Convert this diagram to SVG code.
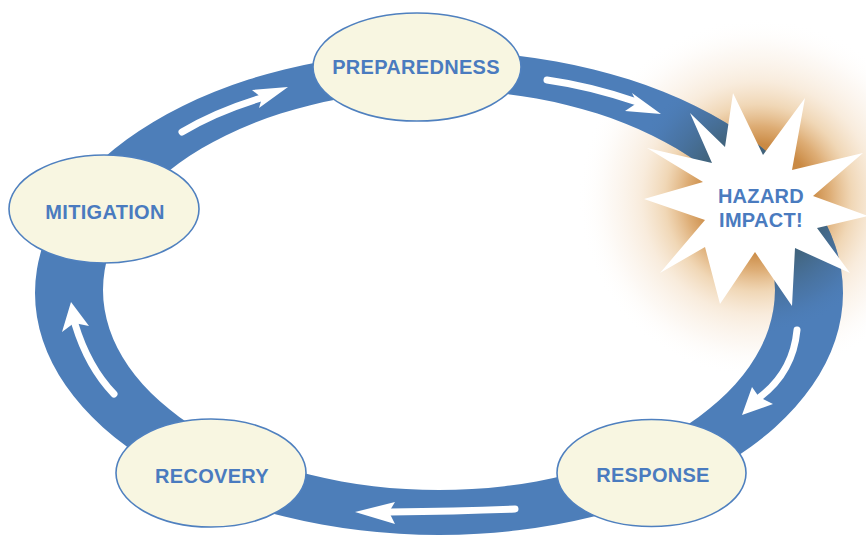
<svg xmlns="http://www.w3.org/2000/svg" width="866" height="539" viewBox="0 0 866 539">
<defs>
<style>
.node ellipse{fill:#f8f6e1;stroke:#4f80bf;stroke-width:1.6}
.lbl{font-family:"Liberation Sans",Arial,sans-serif;font-weight:bold;font-size:20px;fill:#4a7bbf;text-anchor:middle;letter-spacing:0.3px}
.shaft{fill:none;stroke:#ffffff;stroke-width:7;stroke-linecap:round}
.head{fill:#ffffff}
</style>
<radialGradient id="glow" gradientUnits="userSpaceOnUse" cx="758" cy="198" r="180">
<stop offset="0" stop-color="#c47f35" stop-opacity="1"/>
<stop offset="0.3" stop-color="#ca8a44" stop-opacity="1"/>
<stop offset="0.4" stop-color="#daa466" stop-opacity="0.9"/>
<stop offset="0.52" stop-color="#eac697" stop-opacity="0.7"/>
<stop offset="0.65" stop-color="#f3dcc0" stop-opacity="0.55"/>
<stop offset="0.82" stop-color="#f8ecdf" stop-opacity="0.35"/>
<stop offset="1" stop-color="#ffffff" stop-opacity="0"/>
</radialGradient>
<radialGradient id="shade" gradientUnits="userSpaceOnUse" cx="760" cy="198" r="135">
<stop offset="0" stop-color="#3d5a6a" stop-opacity="0.95"/>
<stop offset="0.5" stop-color="#3f5f72" stop-opacity="0.8"/>
<stop offset="0.8" stop-color="#45688a" stop-opacity="0.3"/>
<stop offset="1" stop-color="#4d7eb9" stop-opacity="0"/>
</radialGradient>
</defs>
<rect width="866" height="539" fill="#ffffff"/>
<circle cx="758" cy="198" r="180" fill="url(#glow)"/>
<g id="connectors">
<path id="ring" fill="#4d7eb9" fill-rule="evenodd" d="M35,293 a404,242 0 1,0 808,0 a404,242 0 1,0 -808,0 Z M103,290 a336,200 0 1,0 672,0 a336,200 0 1,0 -672,0 Z"/>
<path fill="url(#shade)" fill-rule="evenodd" d="M35,293 a404,242 0 1,0 808,0 a404,242 0 1,0 -808,0 Z M103,290 a336,200 0 1,0 672,0 a336,200 0 1,0 -672,0 Z"/>
<g id="arrow-mit-prep">
<path class="shaft" d="M182,132 Q215,112 261,98"/>
<polygon class="head" points="288,87 252,90 262,98 259,108"/>
</g>
<g id="arrow-prep-hazard">
<path class="shaft" d="M547,80 Q590,86 637,102"/>
<polygon class="head" points="661,114 632,93 637,103 625,111"/>
</g>
<g id="arrow-hazard-resp">
<path class="shaft" d="M797,330 Q793,372 760,397"/>
<polygon class="head" points="742,415 752,387 759,397 773,404"/>
</g>
<g id="arrow-resp-rec">
<path class="shaft" d="M515,509 Q460,511 390,512"/>
<polygon class="head" points="355,512 395,502 389,512 395,524"/>
</g>
<g id="arrow-rec-mit">
<path class="shaft" d="M114,394 Q88,367 75,324"/>
<polygon class="head" points="71,302 62,332 74,323 89,326"/>
</g>
</g>
<g id="preparedness" class="node">
<ellipse cx="417" cy="67" rx="104" ry="54"/>
<text class="lbl" x="416" y="74">PREPAREDNESS</text>
</g>
<g id="mitigation" class="node">
<ellipse cx="104" cy="209" rx="95" ry="54"/>
<text class="lbl" x="105" y="219">MITIGATION</text>
</g>
<g id="recovery" class="node">
<ellipse cx="211" cy="473" rx="95" ry="54"/>
<text class="lbl" x="212" y="483">RECOVERY</text>
</g>
<g id="response" class="node">
<ellipse cx="651.5" cy="473" rx="94.5" ry="53.5"/>
<text class="lbl" x="653" y="482">RESPONSE</text>
</g>
<g id="hazard">
<polygon fill="#ffffff" points="733,93 763,155 805,98 792,170 863,153 813,196 868,216 817,228 850,273 795,248 792,306 755,252 720,304 705,247 660,273 705,220 644,199 703,182 647,148 712,163 690,113 725,147"/>
<text class="lbl"><tspan x="761" y="203">HAZARD</tspan><tspan x="761" y="227">IMPACT!</tspan></text>
</g>
</svg>
